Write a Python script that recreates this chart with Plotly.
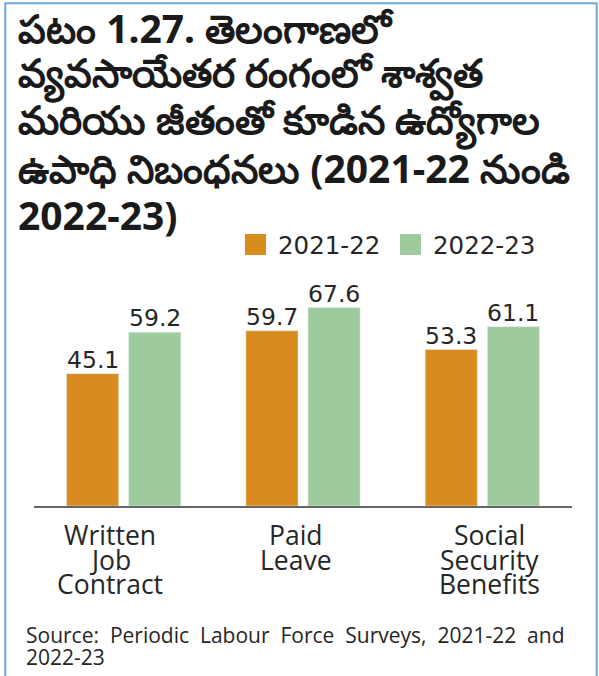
import plotly.graph_objects as go

categories = ["Written Job Contract", "Paid Leave", "Social Security Benefits"]
cat_lines = [["Written", "Job", "Contract"], ["Paid", "Leave"], ["Social", "Security", "Benefits"]]
series_names = ["2021-22", "2022-23"]
values_2122 = [45.1, 59.7, 53.3]
values_2223 = [59.2, 67.6, 61.1]
colors = ["#D98B1D", "#9DCB9E"]

title_lines = [
    "పటం 1.27. తెలంగాణలో",
    "వ్యవసాయేతర రంగంలో శాశ్వత",
    "మరియు జీతంతో కూడిన ఉద్యోగాల",
    "ఉపాధి నిబంధనలు (2021-22 నుండి",
    "2022-23)",
]
source_lines = ["Source: Periodic Labour Force Surveys, 2021-22 and", "2022-23"]

W, H = 599, 676
L, R = 34, 572      # plot area x in px
T, B = 270, 506     # plot area y in px
PXU = 2.935
ymax = (B - T) / PXU
BARGAP, GROUPGAP = 0.307, 0.161
slot = (R - L) / len(categories) * (1 - BARGAP) / 2

def px(x):
    return (x - L) / (R - L)

def py(y):
    return (B - y) / (B - T)

TEXT = "#262626"
NUMFONT = "DejaVu Sans"
LBLFONT = "Open Sans"

fig = go.Figure()
annotations = []
for i, (name, vals, col) in enumerate(zip(series_names, [values_2122, values_2223], colors)):
    fig.add_bar(x=categories, y=vals, name=name, marker_color=col, showlegend=False)
    for cat, v in zip(categories, vals):
        annotations.append(dict(
            text=f"{v:.1f}", xref="x", yref="y", x=cat, y=v,
            xshift=(i - 0.5) * slot, yshift=-2,
            xanchor="center", yanchor="bottom", showarrow=False,
            font=dict(family=NUMFONT, size=23.5, color=TEXT)))

# title
title_baselines = [40.7, 87.5, 134.2, 181, 227.7]
for t, bl in zip(title_lines, title_baselines):
    annotations.append(dict(
        text=f"<b>{t}</b>", xref="paper", yref="paper", x=px(16), y=py(bl - 13.5),
        xanchor="left", yanchor="middle", showarrow=False,
        font=dict(family="Noto Sans, DejaVu Sans", size=39, color="#1a1a1a")))

# category labels
xshifts = [-14, -7.5, 7]
line_baselines = [545.7, 570, 594.3]
for cat, lines, xs in zip(categories, cat_lines, xshifts):
    for ln, bl in zip(lines, line_baselines):
        annotations.append(dict(
            text=ln, xref="x", yref="paper", x=cat, y=py(bl - 10.3), xshift=xs,
            xanchor="center", yanchor="middle", showarrow=False,
            font=dict(family=LBLFONT, size=26.5, color=TEXT)))

# legend
leg = [(245, 276), (400, 431)]
shapes = []
for (sx, tx), name, col in zip(leg, series_names, colors):
    shapes.append(dict(type="rect", xref="paper", yref="paper",
                       x0=px(sx), x1=px(sx + 21), y0=py(255), y1=py(234),
                       fillcolor=col, line=dict(width=0)))
    annotations.append(dict(
        text=name, xref="paper", yref="paper", x=px(tx), y=py(245),
        xanchor="left", yanchor="middle", showarrow=False,
        font=dict(family=NUMFONT, size=24.5, color=TEXT)))

# source (justified look: slightly widened word gaps)
for ln, bl in zip(source_lines, [642.3, 665]):
    annotations.append(dict(
        text=ln.replace(" ", " \u00a0"), xref="paper", yref="paper", x=px(24), y=py(bl - 7.8),
        xanchor="left", yanchor="middle", showarrow=False,
        font=dict(family=LBLFONT, size=21, color=TEXT)))

# border
shapes.append(dict(type="rect", xref="paper", yref="paper",
                   x0=px(5.3), x1=px(596.7), y0=py(700), y1=py(3.3),
                   line=dict(color="#6FA8DC", width=2), fillcolor="rgba(0,0,0,0)", layer="below"))

fig.update_layout(
    width=W, height=H,
    margin=dict(l=L, r=W - R, t=T, b=H - B, pad=0),
    paper_bgcolor="white", plot_bgcolor="white",
    barmode="group", bargap=BARGAP, bargroupgap=GROUPGAP,
    showlegend=False,
    xaxis=dict(showticklabels=False, ticks="", showgrid=False, zeroline=False,
               showline=True, linecolor="#666666", linewidth=1.5, fixedrange=True),
    yaxis=dict(range=[0, ymax], visible=False, fixedrange=True),
    annotations=annotations, shapes=shapes,
)

fig.write_html("out.html", config={"displayModeBar": False},
               post_script="document.body.style.margin='0';document.body.style.overflow='hidden';")
